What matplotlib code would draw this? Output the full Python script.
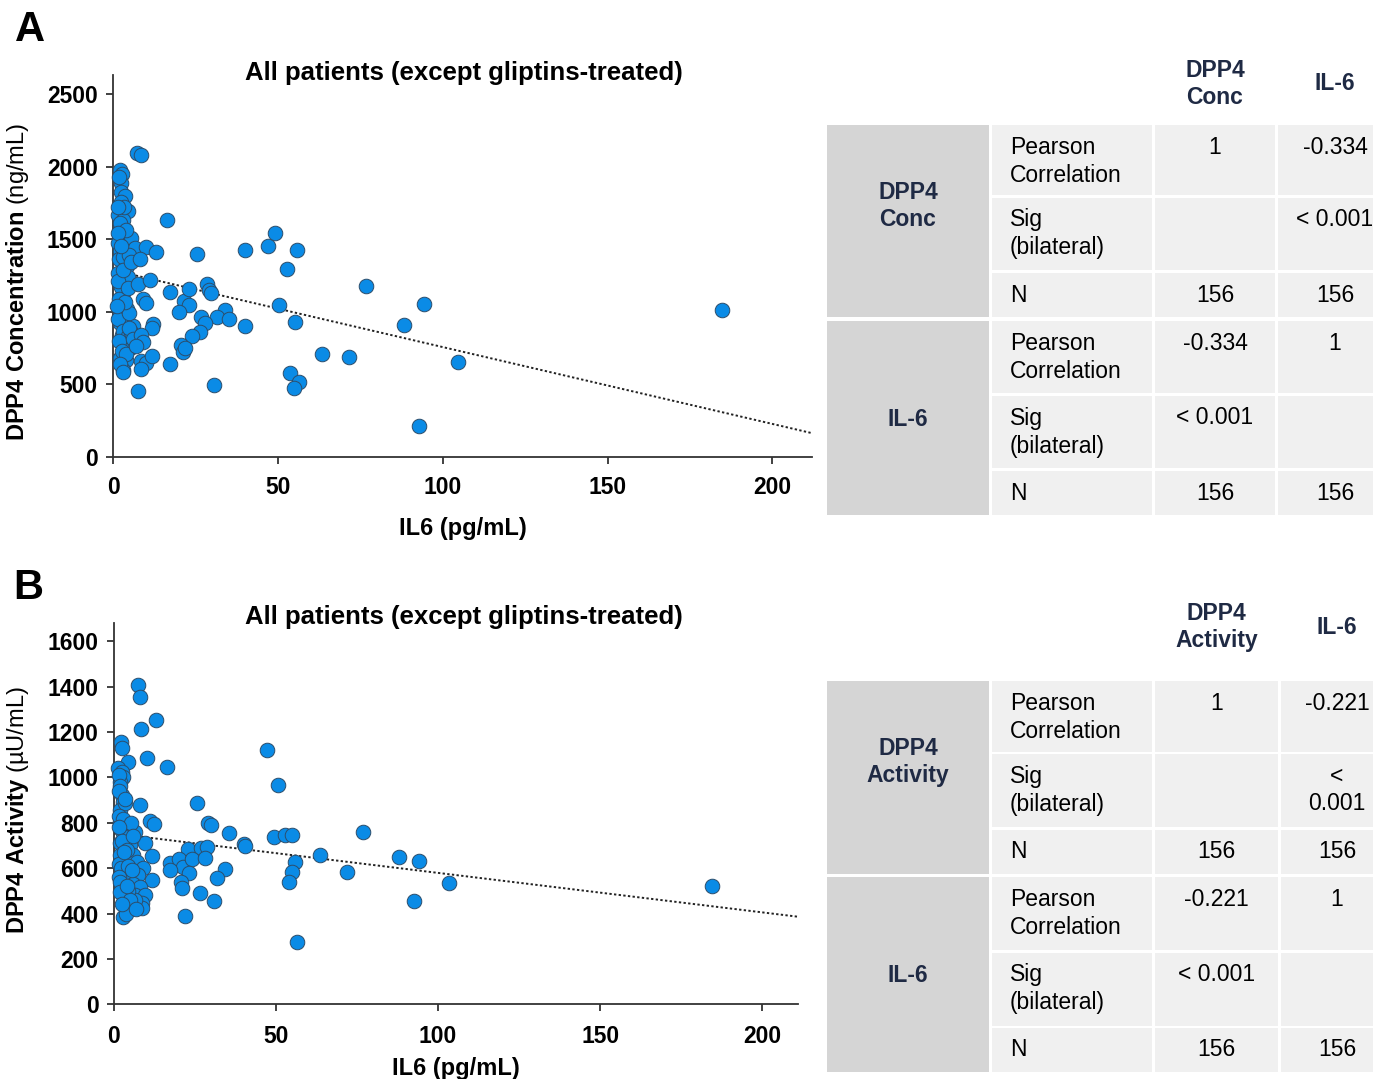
import numpy as np
import matplotlib
matplotlib.use("Agg")
import matplotlib.pyplot as plt
from matplotlib.patches import Rectangle

plt.rcParams['font.family'] = ['Liberation Sans', 'DejaVu Sans']
plt.rcParams['mathtext.fontset'] = 'custom'
plt.rcParams['mathtext.rm'] = 'Liberation Sans'
plt.rcParams['mathtext.bf'] = 'Liberation Sans:bold'

# ---------------- data: panel A (IL6 vs DPP4 concentration) ----------------
il6_A = [2.1, 2.6, 2.3, 2.4, 3.6, 2.3, 4.4, 1.6, 3.1, 2.6, 3.6, 5.6, 1.6, 2.1, 3.6, 6.6, 4.1,
         1.6, 3.1, 3.1, 2.4, 4.1, 2.1, 4.1, 6.1, 2.6, 3.6, 5.1, 6.6, 2.1, 3.8, 3.1,
         1.8, 3.0, 5.0, 2.0, 4.0, 3.2, 1.8, 1.5, 2.5, 4.5, 1.5, 1.8, 2.2, 1.5, 4.8, 3.5,
         1.2, 3.0, 4.5, 5.5, 1.8, 2.8, 4.0, 2.0, 3.0, 5.0, 6.0, 4.5, 3.0, 5.5, 2.5, 1.4,
         7.4, 8.6, 10.1, 12.9, 8.1, 7.6, 11.1, 9.1, 10.1, 12.2, 11.9, 8.6, 8.4, 10.1, 11.7,
         8.6, 7.6, 9.0, 7.0,
         16.4, 17.4, 21.5, 23.0, 20.0, 23.0, 28.5, 29.0, 29.7, 34.0, 31.5, 35.2, 26.7, 28.0,
         40.0, 50.3, 55.3, 26.4, 24.0, 20.5, 21.2, 21.7, 17.4, 30.7, 63.3, 71.7, 53.8, 56.3,
         54.8, 25.5, 40.0, 47.1, 49.1, 55.8, 52.8, 76.7, 94.2, 88.2, 104.6, 92.9, 184.6]
dpp4_conc_A = [1975, 1950, 1888, 1823, 1795, 1754, 1697, 1669, 1635, 1577, 1496, 1508, 1474,
               1416, 1416, 1439, 1312,
               1266, 1186, 1128, 1036, 1018, 921, 909, 898, 840, 783, 748, 794, 679, 668, 599,
               1360, 1380, 1390, 1610, 1560, 1720, 1930, 1540, 1170, 1240, 1210, 1090, 990, 950,
               990, 1070, 1040, 870, 830, 860, 800, 730, 710, 640, 585, 890, 810, 1160, 1290,
               1340, 1450, 1720,
               2097, 2081, 1446, 1409, 1363, 1193, 1215, 1087, 1059, 916, 886, 840, 661, 645, 695,
               603, 455, 790, 760,
               1630, 1139, 1077, 1047, 997, 1158, 1193, 1151, 1128, 1013, 960, 949, 960, 925,
               898, 1045, 928, 863, 833, 771, 725, 749, 638, 495, 707, 686, 580, 518,
               472, 1400, 1427, 1455, 1543, 1423, 1294, 1174, 1051, 910, 655, 210, 1012]

# ---------------- data: panel B (IL6 vs DPP4 activity) ----------------
il6_B = [7.6, 8.0, 13.0, 8.4, 2.3, 2.7, 10.2, 4.3, 1.4, 2.5, 3.0, 1.9, 2.5, 2.8, 8.1, 1.9,
         3.5, 1.9, 4.0, 11.2, 12.5, 3.0, 4.5, 6.6, 1.9, 5.0, 9.7, 1.9, 3.5, 6.0, 7.1, 9.1,
         11.9, 3.0, 5.6, 7.6, 11.9, 3.0, 6.0, 8.1, 3.0, 6.6, 9.7, 8.6, 8.6, 3.0, 3.7, 6.6,
         1.5, 2.0, 1.5, 3.5, 1.6, 2.8, 5.2, 1.5, 2.5, 4.0, 1.5, 2.2, 4.5, 1.5, 2.0, 4.5,
         1.8, 5.0, 2.5, 7.0, 5.5, 3.2, 6.0, 4.2,
         16.5, 25.6, 29.2, 30.0, 35.4, 23.0, 26.8, 28.7, 17.4, 20.0, 21.5, 24.2, 28.2, 17.4,
         23.2, 34.3, 31.7, 20.8, 21.2, 26.6, 30.8, 22.0, 40.2, 40.4,
         47.2, 50.6, 49.3, 52.9, 55.0, 56.0, 55.0, 54.1, 56.6, 63.7, 71.9, 77.0, 87.9, 94.0,
         92.5, 103.3, 184.4]
dpp4_act_B = [1405, 1353, 1251, 1211, 1156, 1130, 1087, 1066, 1040, 1025, 1000, 981, 922, 893,
              877, 856, 885, 804, 790, 809, 793, 753, 738, 760, 709, 702, 709, 658, 636, 658,
              628, 599, 653, 577, 555, 570, 548, 518, 530, 518, 481, 481, 481, 445, 423, 386,
              398, 460,
              1010, 960, 940, 905, 830, 815, 800, 780, 720, 680, 620, 600, 610, 560, 540, 500,
              495, 460, 440, 420, 590, 670, 740, 520,
              1044, 885, 797, 790, 756, 685, 688, 692, 622, 638, 604, 639, 645, 590,
              577, 596, 558, 538, 513, 489, 457, 391, 706, 698,
              1120, 965, 737, 746, 746, 627, 584, 540, 276, 656, 581, 760, 650, 631,
              455, 533, 521]

# regression lines: (intercept, slope)
fit_A = [1286, -5.30]
fit_B = [753, -1.74]

# ticks / labels
xticks = [0, 50, 100, 150, 200]
yticks_A = [0, 500, 1000, 1500, 2000, 2500]
yticks_B = [0, 200, 400, 600, 800, 1000, 1200, 1400, 1600]
title_text = "All patients (except gliptins-treated)"
xlabel_text = "IL6 (pg/mL)"
ylabel_A = r"$\mathbf{DPP4\ Concentration}$ (ng/mL)"
ylabel_B = r"$\mathbf{DPP4\ Activity}$ (µU/mL)"

# correlation tables
stat_labels = ["Pearson\nCorrelation", "Sig\n(bilateral)", "N"]
headers_A = ["DPP4\nConc", "IL-6"]
headers_B = ["DPP4\nActivity", "IL-6"]
values_A = [["1", "-0.334"], ["", "< 0.001"], ["156", "156"],
            ["-0.334", "1"], ["< 0.001", ""], ["156", "156"]]
values_B = [["1", "-0.221"], ["", "<\n0.001"], ["156", "156"],
            ["-0.221", "1"], ["< 0.001", ""], ["156", "156"]]
groups_A = ["DPP4\nConc", "IL-6"]
groups_B = ["DPP4\nActivity", "IL-6"]

# ---------------- figure ----------------
W, H = 1373, 1079
fig = plt.figure(figsize=(W / 100, H / 100), dpi=100)

dot_face = '#0a8be6'
dot_edge = '#2c4d6b'
spine_c = '#333333'


def px_axes(l, t, r, b):
    return fig.add_axes([l / W, 1 - b / H, (r - l) / W, (b - t) / H])


def style_axes(ax, xmax, ymax, yticks, xpad):
    ax.set_xlim(0, xmax)
    ax.set_ylim(0, ymax)
    ax.set_xticks(xticks)
    ax.set_yticks(yticks)
    for s in ['top', 'right']:
        ax.spines[s].set_visible(False)
    for s in ['left', 'bottom']:
        ax.spines[s].set_color(spine_c)
        ax.spines[s].set_linewidth(1.3)
    ax.tick_params(direction='out', length=5, width=1.3, color=spine_c, labelsize=16.5)
    ax.tick_params(axis='y', pad=6)
    ax.tick_params(axis='x', pad=xpad)
    for lab in ax.get_xticklabels() + ax.get_yticklabels():
        lab.set_fontweight('bold')


# Panel A
axA = px_axes(113, 75, 812, 456.7)
axA.scatter(il6_A, dpp4_conc_A, s=110, c=dot_face, edgecolors=dot_edge, linewidths=0.7,
            zorder=3, clip_on=False)
xs = np.array([0, 212.0])
axA.plot(xs, fit_A[0] + fit_A[1] * xs, color='#222222', lw=1.4, ls=(0, (1.2, 1.2)), zorder=2)
style_axes(axA, 212, 2632, yticks_A, 9)
axA.text(0.502, 1.005, title_text, transform=axA.transAxes, ha='center', va='center',
         fontsize=18.5, fontweight='bold')
axA.set_xlabel(xlabel_text, fontsize=17, fontweight='bold')
axA.xaxis.set_label_coords(0.5, -0.158)
axA.set_ylabel(ylabel_A, fontsize=17)
axA.yaxis.set_label_coords(-0.118, 0.458)

# Panel B
axB = px_axes(113.7, 623, 798, 1004.3)
axB.scatter(il6_B, dpp4_act_B, s=110, c=dot_face, edgecolors=dot_edge, linewidths=0.7,
            zorder=3, clip_on=False)
xs = np.array([0, 211.0])
axB.plot(xs, fit_B[0] + fit_B[1] * xs, color='#222222', lw=1.4, ls=(0, (1.2, 1.2)), zorder=2)
style_axes(axB, 211, 1680, yticks_B, 10)
axB.text(0.512, 1.016, title_text, transform=axB.transAxes, ha='center', va='center',
         fontsize=18.5, fontweight='bold')
axB.set_xlabel(xlabel_text, fontsize=17, fontweight='bold')
axB.xaxis.set_label_coords(0.5, -0.138)
axB.set_ylabel(ylabel_B, fontsize=17)
axB.yaxis.set_label_coords(-0.121, 0.51)

# ---------------- overlay for tables and panel letters ----------------
ov = fig.add_axes([0, 0, 1, 1], zorder=-1)
ov.set_xlim(0, W)
ov.set_ylim(H, 0)
ov.axis('off')

ov.text(30, 30, "A", fontsize=30, fontweight='bold', ha='center', va='center')
ov.text(28, 588, "B", fontsize=30, fontweight='bold', ha='center', va='center')

navy = '#1f2a44'
gray_dark = '#d5d5d5'
gray_light = '#f0f0f0'
fs = 16.5
line_h = 28


def draw_table(headers, values, groups, hdr_y, rows, cols, group_spans, group_label_y):
    for j, h in enumerate(headers):
        cx = (cols[j + 2][0] + cols[j + 2][1]) / 2
        ov.text(cx, hdr_y, h, ha='center', va='center', fontsize=fs, fontweight='bold',
                color=navy, linespacing=1.2)
    for g, (t, b) in enumerate(group_spans):
        ov.add_patch(Rectangle((cols[0][0], t), cols[0][1] - cols[0][0], b - t,
                               facecolor=gray_dark, edgecolor='none'))
        ov.text((cols[0][0] + cols[0][1]) / 2, group_label_y[g], groups[g], ha='center',
                va='center', fontsize=fs, fontweight='bold', color=navy, linespacing=1.2)
    for i, (t, b) in enumerate(rows):
        for c in range(1, 4):
            ov.add_patch(Rectangle((cols[c][0], t), cols[c][1] - cols[c][0], b - t,
                                   facecolor=gray_light, edgecolor='none'))
        lines = stat_labels[i % 3].split("\n")
        if len(lines) == 1:
            ys = [(t + b) / 2]
        else:
            ys = [t + 22 + line_h * k for k in range(len(lines))]
        for k, ln in enumerate(lines):
            ov.text(cols[1][0] + 18, ys[k], ln, ha='left', va='center', fontsize=fs,
                    color='black')
        for j in range(2):
            v = values[i][j]
            if not v:
                continue
            vl = v.split("\n")
            cx = (cols[j + 2][0] + cols[j + 2][1]) / 2
            if len(lines) == 1:
                vys = [(t + b) / 2]
            else:
                vys = [t + 22 + line_h * k for k in range(len(vl))]
            for k, ln in enumerate(vl):
                ov.text(cx, vys[k], ln, ha='center', va='center', fontsize=fs, color='black')


rows_A = [(125, 195), (197.5, 270), (273, 317), (321, 393), (396, 468), (471, 515)]
cols_A = [(827, 989), (992, 1152), (1155, 1275), (1278, 1392)]
draw_table(headers_A, values_A, groups_A, 84, rows_A, cols_A,
           [(125, 317), (320.5, 515)], [206, 419])

rows_B = [(681, 751.5), (754, 827), (830, 874), (877, 950), (952.5, 1025.5), (1028, 1072)]
cols_B = [(827, 989), (992, 1152), (1155, 1278), (1281, 1393)]
draw_table(headers_B, values_B, groups_B, 627, rows_B, cols_B,
           [(681, 874), (876.5, 1072)], [762, 975])

fig.savefig("out.png", dpi=100)
